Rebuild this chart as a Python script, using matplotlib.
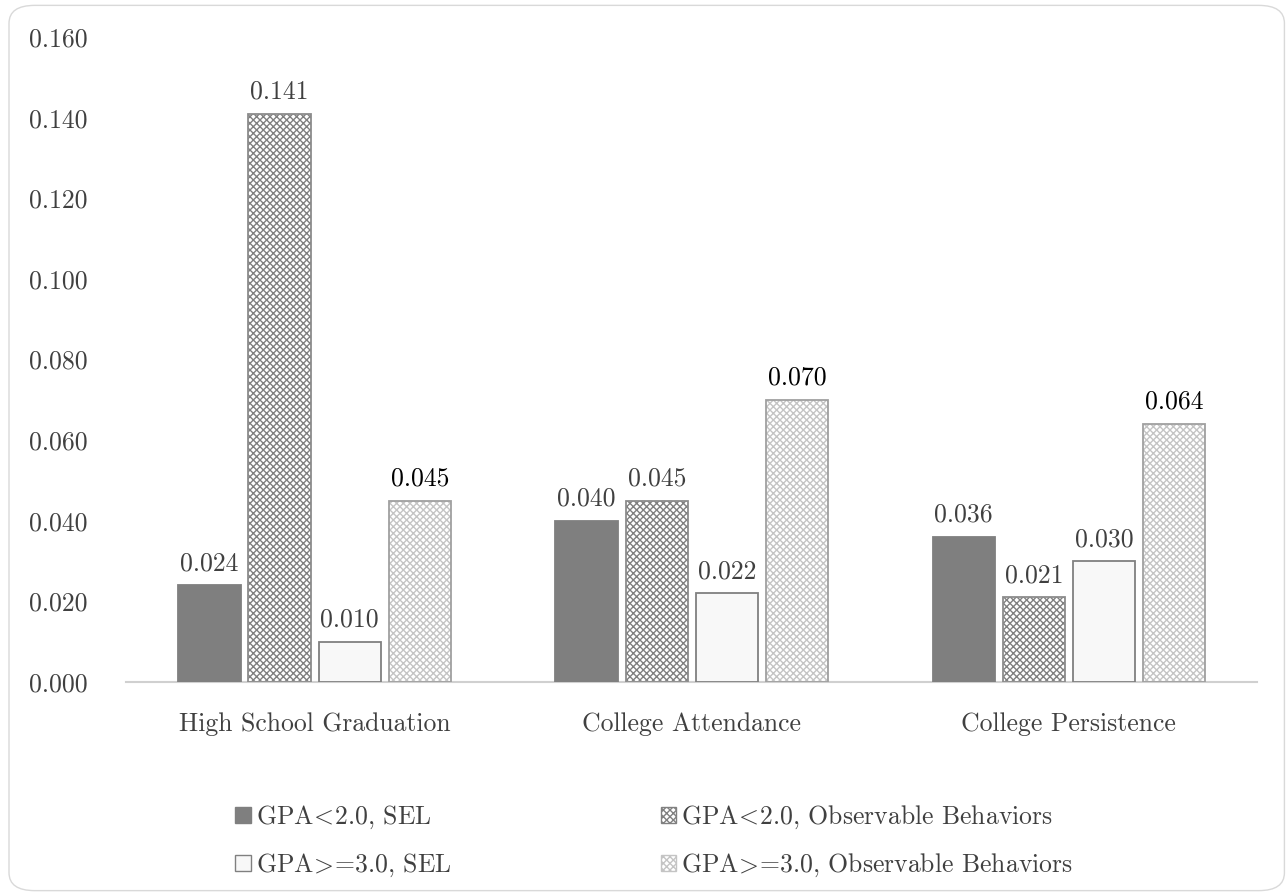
import matplotlib.pyplot as plt
import numpy as np
from matplotlib.patches import FancyBboxPatch, Patch

plt.rcParams['font.family'] = ['cmr10', 'DejaVu Serif']
plt.rcParams['mathtext.fontset'] = 'cm'
plt.rcParams['axes.formatter.use_mathtext'] = True
plt.rcParams['hatch.linewidth'] = 1.0

categories = ["High School Graduation", "College Attendance", "College Persistence"]
series_names = [r"GPA$\!<\!$2.0, SEL", r"GPA$\!<\!$2.0, Observable Behaviors",
                r"GPA$\!>\!$=3.0, SEL", r"GPA$\!>\!$=3.0, Observable Behaviors"]
low_sel = [0.024, 0.040, 0.036]
low_obs = [0.141, 0.045, 0.021]
high_sel = [0.010, 0.022, 0.030]
high_obs = [0.045, 0.070, 0.064]
y_ticks = [0.000, 0.020, 0.040, 0.060, 0.080, 0.100, 0.120, 0.140, 0.160]

# fill, hatch, hatch colour, outline colour, label colour
styles = [
    ("#7f7f7f", None, None, "#7f7f7f", "#404040"),
    ("white", "xxxxx", "#808080", "#8c8c8c", "#404040"),
    ("#f8f8f8", None, None, "#808080", "#404040"),
    ("white", "xxxxx", "#c4c4c4", "#a0a0a0", "#000000"),
]
fs = 18.5

fig = plt.figure(figsize=(12.87, 8.96), dpi=100)
ax = fig.add_axes([0.098, 0.2388, 0.879, 0.7199])

x = np.arange(len(categories))
width = 0.165
step = 0.186
handles = []
for i, vals in enumerate([low_sel, low_obs, high_sel, high_obs]):
    fill, hatch, hcol, ecol, tcol = styles[i]
    pos = x + (i - 1.5) * step
    if hatch:
        ax.bar(pos, vals, width, color=fill, hatch=hatch, edgecolor=hcol,
               linewidth=0, zorder=2)
    ax.bar(pos, vals, width, fill=(hatch is None), facecolor=fill,
           edgecolor=ecol, linewidth=1.3, zorder=3)
    for px, v in zip(pos, vals):
        ax.text(px, v + 0.0025, f"{v:.3f}", ha="center", va="bottom",
                fontsize=fs, color=tcol)
    handles.append(Patch(facecolor=fill, hatch=hatch,
                         edgecolor=hcol if hatch else ecol, linewidth=1.0))

ax.set_xlim(-0.5, 2.5)
ax.set_ylim(0, 0.16)
ax.set_yticks(y_ticks)
ax.set_yticklabels([f"{t:.3f}" for t in y_ticks])
ax.set_xticks(x)
ax.set_xticklabels(categories)
ax.tick_params(axis="both", length=0, labelsize=fs, labelcolor="#404040")
ax.tick_params(axis="x", pad=22)
ax.tick_params(axis="y", pad=28)
for side in ["top", "right", "left"]:
    ax.spines[side].set_visible(False)
ax.spines["bottom"].set_color("#d0d0d0")
ax.spines["bottom"].set_linewidth(1.5)

# legend in two columns, row-wise order
order = [0, 2, 1, 3]
fig.legend([handles[k] for k in order], [series_names[k] for k in order],
           ncol=2, loc="lower left", bbox_to_anchor=(0.165, -0.007),
           frameon=False, fontsize=fs, labelcolor="#404040",
           handlelength=0.6, handleheight=0.6, handletextpad=0.2,
           columnspacing=8.15, labelspacing=0.8)

border = FancyBboxPatch((0.007, 0.006), 0.991, 0.988,
                        boxstyle="round,pad=0,rounding_size=0.02",
                        transform=fig.transFigure, fill=False,
                        edgecolor="#d9d9d9", linewidth=1.0)
fig.patches.append(border)

fig.savefig("out.png", dpi=100)
